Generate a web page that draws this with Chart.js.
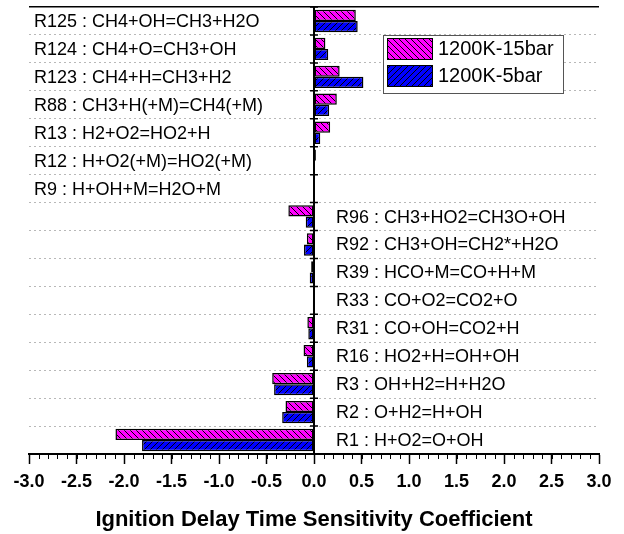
<!DOCTYPE html>
<html>
<head>
<meta charset="utf-8">
<script src="https://cdn.jsdelivr.net/npm/chart.js@4.4.1/dist/chart.umd.min.js"></script>
<style>
  html, body { margin: 0; padding: 0; background: #fff; }
</style>
</head>
<body>
<canvas id="sens" width="624" height="534"></canvas>
<script>
// sensitivity coefficients, top row first
const reactions = [
    'R125 : CH4+OH=CH3+H2O',
    'R124 : CH4+O=CH3+OH',
    'R123 : CH4+H=CH3+H2',
    'R88 : CH3+H(+M)=CH4(+M)',
    'R13 : H2+O2=HO2+H',
    'R12 : H+O2(+M)=HO2(+M)',
    'R9 : H+OH+M=H2O+M',
    'R96 : CH3+HO2=CH3O+OH',
    'R92 : CH3+OH=CH2*+H2O',
    'R39 : HCO+M=CO+H+M',
    'R33 : CO+O2=CO2+O',
    'R31 : CO+OH=CO2+H',
    'R16 : HO2+H=OH+OH',
    'R3 : OH+H2=H+H2O',
    'R2 : O+H2=H+OH',
    'R1 : H+O2=O+OH',
];
const sens15bar = [0.44, 0.12, 0.27, 0.24, 0.17, 0.02, 0.004, -0.27, -0.075, -0.03, -0.01, -0.07, -0.11, -0.44, -0.30, -2.09];
const sens5bar  = [0.46, 0.15, 0.52, 0.16, 0.066, 0.003, 0.002, -0.087, -0.105, -0.045, -0.012, -0.06, -0.075, -0.42, -0.335, -1.81];
const seriesNames = ['1200K-15bar', '1200K-5bar'];
const xTickValues = [-3.0, -2.5, -2.0, -1.5, -1.0, -0.5, 0.0, 0.5, 1.0, 1.5, 2.0, 2.5, 3.0];
const xMinorStep = 0.1;

const FONT = '"Liberation Sans", Arial, sans-serif';

// hatched fill like the original plot
function hatch(color, dir) {
    const s = 6;
    const c = document.createElement('canvas');
    c.width = s; c.height = s;
    const g = c.getContext('2d');
    g.fillStyle = color;
    g.fillRect(0, 0, s, s);
    g.strokeStyle = '#000';
    g.lineWidth = 1;
    g.beginPath();
    if (dir === 'down') {
        g.moveTo(0, 0); g.lineTo(s, s);
        g.moveTo(-1, s - 1); g.lineTo(1, s + 1);
        g.moveTo(s - 1, -1); g.lineTo(s + 1, 1);
    } else {
        g.moveTo(0, s); g.lineTo(s, 0);
        g.moveTo(-1, 1); g.lineTo(1, -1);
        g.moveTo(s - 1, s + 1); g.lineTo(s + 1, s - 1);
    }
    g.stroke();
    return g.createPattern(c, 'repeat');
}

const fill15 = hatch('#ff00ff', 'down');
const fill5 = hatch('#0000ff', 'up');

// reaction names sit inside the plot, on the side away from the bars
const reactionLabels = {
    id: 'reactionLabels',
    afterDatasetsDraw(chart) {
        const {ctx, chartArea, scales: {x, y}} = chart;
        ctx.save();
        ctx.font = '18px ' + FONT;
        ctx.fillStyle = '#000';
        ctx.textBaseline = 'middle';
        ctx.textAlign = 'left';
        reactions.forEach((name, i) => {
            const yc = y.getPixelForValue(i);
            const positive = sens15bar[i] + sens5bar[i] >= 0;
            const xt = positive ? chartArea.left + 5 : x.getPixelForValue(0) + 22;
            ctx.fillText(name, xt, yc + 1);
        });
        ctx.restore();
    }
};

// minor ticks on x, crossing ticks on the zero axis, legend box
const extras = {
    id: 'extras',
    afterDraw(chart) {
        const {ctx, chartArea, scales: {x, y}} = chart;
        ctx.save();
        ctx.strokeStyle = '#000';
        ctx.lineWidth = 1;
        ctx.beginPath();
        const n = Math.round((x.max - x.min) / xMinorStep);
        for (let i = 0; i <= n; i++) {
            const v = x.min + i * xMinorStep;
            const px = Math.round(x.getPixelForValue(v)) + 0.5;
            ctx.moveTo(px, chartArea.bottom);
            ctx.lineTo(px, chartArea.bottom + 5);
        }
        ctx.stroke();

        // ticks across the zero line at category boundaries
        const x0 = x.getPixelForValue(0);
        const step = y.getPixelForValue(1) - y.getPixelForValue(0);
        ctx.lineWidth = 1.5;
        ctx.beginPath();
        for (let i = 0; i <= reactions.length; i++) {
            const py = y.getPixelForValue(i) - step / 2;
            ctx.moveTo(x0 - 4, py);
            ctx.lineTo(x0 + 4, py);
        }
        ctx.stroke();

        // legend
        const bx = 383, by = 35, bw = 180, bh = 58;
        ctx.fillStyle = '#fff';
        ctx.fillRect(bx, by, bw, bh);
        ctx.strokeStyle = '#555';
        ctx.lineWidth = 1;
        ctx.strokeRect(bx + 0.5, by + 0.5, bw, bh);
        ctx.font = '20px ' + FONT;
        ctx.textBaseline = 'middle';
        ctx.textAlign = 'left';
        chart.data.datasets.forEach((ds, i) => {
            const ry = by + 3 + i * 27;
            ctx.fillStyle = ds.backgroundColor;
            ctx.fillRect(bx + 4, ry, 45, 21);
            ctx.strokeStyle = '#000';
            ctx.strokeRect(bx + 4.5, ry + 0.5, 45, 21);
            ctx.fillStyle = '#000';
            ctx.fillText(ds.label, bx + 55, ry + 11);
        });
        ctx.restore();
    }
};

new Chart(document.getElementById('sens'), {
    type: 'bar',
    data: {
        labels: reactions,
        datasets: [
            {
                label: seriesNames[0],
                data: sens15bar,
                backgroundColor: fill15,
                borderColor: '#000',
                borderWidth: 1.5,
                borderSkipped: false,
            },
            {
                label: seriesNames[1],
                data: sens5bar,
                backgroundColor: fill5,
                borderColor: '#000',
                borderWidth: 1.5,
                borderSkipped: false,
            }
        ]
    },
    options: {
        responsive: false,
        animation: false,
        indexAxis: 'y',
        events: [],
        layout: { padding: { left: 29, right: 25, top: 7, bottom: 0 } },
        datasets: {
            bar: { categoryPercentage: 0.8, barPercentage: 1.0 }
        },
        plugins: {
            legend: { display: false },
            tooltip: { enabled: false },
        },
        scales: {
            x: {
                type: 'linear',
                min: -3,
                max: 3,
                afterBuildTicks: (scale) => {
                    scale.ticks = xTickValues.map(v => ({ value: v }));
                },
                afterFit: (scale) => { scale.height = 80; },
                ticks: {
                    color: '#000',
                    padding: 7,
                    maxRotation: 0,
                    font: { family: FONT, size: 18, weight: 'bold' },
                    callback: (v) => Number(v).toFixed(1),
                },
                grid: {
                    drawOnChartArea: false,
                    drawTicks: true,
                    tickLength: 10,
                    tickColor: '#000',
                    tickWidth: 1.5,
                },
                border: { color: '#000', width: 2 },
                title: {
                    display: true,
                    text: 'Ignition Delay Time Sensitivity Coefficient',
                    color: '#000',
                    padding: { top: 0, bottom: 1 },
                    font: { family: FONT, size: 22, weight: 'bold' },
                },
            },
            y: {
                type: 'category',
                position: { x: 0 },
                offset: true,
                ticks: { display: false },
                grid: {
                    offset: true,
                    drawTicks: false,
                    color: (c) => c.index === 0 ? '#000' : (c.index === undefined ? 'rgba(0,0,0,0)' : '#b8b8b8'),
                    lineWidth: (c) => c.index === 0 ? 1.5 : 1,
                },
                border: {
                    color: '#000',
                    width: 2,
                    dash: (c) => c.index === 0 ? [] : [2, 3],
                },
            }
        }
    },
    plugins: [reactionLabels, extras]
});
</script>
</body>
</html>
